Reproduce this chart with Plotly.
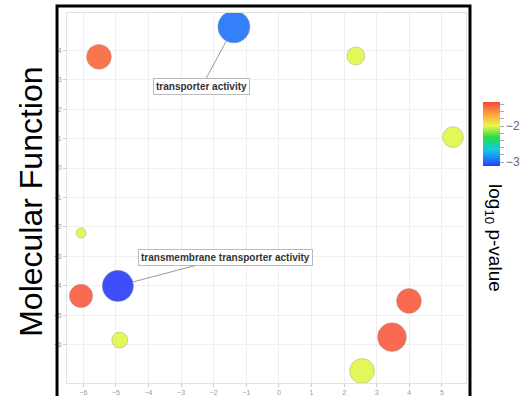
import plotly.graph_objects as go

# GO terms (Molecular Function) placed in semantic space
terms = [
    "transporter activity",
    "term 2",
    "term 3",
    "term 4",
    "term 5",
    "transmembrane transporter activity",
    "term 7",
    "term 8",
    "term 9",
    "term 10",
    "term 11",
]
sem_x = [-1.38, -5.52, 2.36, 5.34, -6.07, -4.94, -6.07, -4.88, 3.99, 3.47, 2.55]
sem_y = [4.80, 3.78, 3.81, 1.05, -2.21, -4.01, -4.35, -5.85, -4.52, -5.75, -6.90]
log10_p = [-2.95, -1.45, -2.0, -2.0, -2.0, -3.11, -1.4, -2.0, -1.4, -1.4, -2.0]
log_size = [4.0, 3.1, 2.25, 2.6, 1.25, 3.9, 2.9, 2.0, 3.1, 3.6, 3.1]

labelled = ["transporter activity", "transmembrane transporter activity"]

x_ticks = [-6, -5, -4, -3, -2, -1, 0, 1, 2, 3, 4, 5]
y_ticks = [-6, -5, -4, -3, -2, -1, 0, 1, 2, 3, 4]

rainbow = [
    [0.00, "rgb(40,60,250)"],
    [0.10, "rgb(30,120,250)"],
    [0.25, "rgb(20,200,230)"],
    [0.45, "rgb(40,220,70)"],
    [0.63, "rgb(232,249,70)"],
    [0.80, "rgb(255,165,60)"],
    [1.00, "rgb(248,72,62)"],
]

fig = go.Figure()
fig.add_trace(go.Scatter(
    x=sem_x, y=sem_y, mode="markers", text=terms, hoverinfo="text",
    marker=dict(
        size=log_size, sizemode="diameter", sizeref=1 / 8,
        color=log10_p, colorscale=rainbow, cmin=-3.11, cmax=-1.33,
        opacity=0.9, line=dict(color="rgba(140,140,140,0.6)", width=0.7),
        colorbar=dict(
            x=1.0426, xanchor="left", xpad=0,
            y=0.673, yanchor="middle", ypad=0,
            len=64, lenmode="pixels", thickness=17,
            outlinewidth=0,
            tickmode="linear", tick0=-3, dtick=0.2, ticklabelstep=5,
            ticks="outside", ticklen=4, tickcolor="#aaa",
            tickfont=dict(family="Liberation Sans, Arial", size=12, color="#666"),
        ),
    ),
    showlegend=False,
))

# callout labels with leader lines to their bubbles
offsets = {
    "transporter activity": (-32, 59.5),
    "transmembrane transporter activity": (108, -28.5),
}
for name in labelled:
    i = terms.index(name)
    ax, ay = offsets[name]
    fig.add_annotation(
        x=sem_x[i], y=sem_y[i], xref="x", yref="y",
        ax=ax, ay=ay, text="<b>" + name + "</b>",
        showarrow=True, arrowhead=0, arrowwidth=1, arrowcolor="#999",
        standoff=log_size[i] * 4,
        bgcolor="white", bordercolor="#bbb", borderwidth=1, borderpad=2,
        font=dict(family="Liberation Sans, Arial", size=10, color="#333"),
    )

fig.add_annotation(
    text="Molecular Function", xref="paper", yref="paper",
    x=-0.09, y=0.49, xanchor="center", yanchor="middle",
    textangle=-90, showarrow=False,
    font=dict(family="Liberation Sans, Arial", size=32, color="black"),
)
fig.add_annotation(
    text="log<sub>10</sub> p-value", xref="paper", yref="paper",
    x=1.070, y=0.392, xanchor="center", yanchor="middle",
    textangle=90, showarrow=False,
    font=dict(family="Liberation Sans, Arial", size=19, color="black"),
)

# black frame around the panel
fig.add_shape(
    type="rect", xref="paper", yref="paper",
    x0=-0.025, x1=1.010, y0=-0.2, y1=1.019,
    line=dict(color="black", width=3), fillcolor="rgba(0,0,0,0)",
)

axis_common = dict(
    showgrid=True, gridcolor="#efefef", gridwidth=1,
    zeroline=False, showline=True, linecolor="#e2e2e2", linewidth=1, mirror=True,
    ticks="outside", ticklen=3, tickcolor="#ccc", automargin=False,
    tickfont=dict(family="Liberation Sans, Arial", size=7, color="#999"),
    tickmode="array",
)
fig.update_xaxes(range=[-6.5, 5.74], tickvals=x_ticks, **axis_common)
fig.update_yaxes(range=[-7.31, 5.27], tickvals=y_ticks, **axis_common)

fig.update_layout(
    width=527, height=396,
    margin=dict(l=67, r=61, t=13, b=13, autoexpand=False),
    plot_bgcolor="white", paper_bgcolor="white",
    font=dict(family="Liberation Sans, Arial"),
)

fig.write_html("out.html")
